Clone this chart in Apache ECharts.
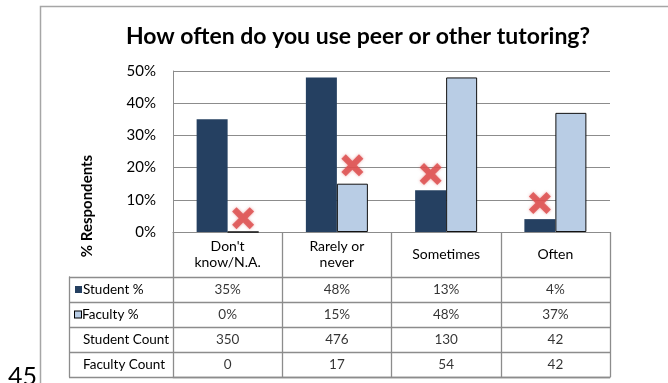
<!DOCTYPE html>
<html>
<head>
<meta charset="utf-8">
<script src="https://cdn.jsdelivr.net/npm/echarts@6/dist/echarts.min.js"></script>
<style>html,body{margin:0;padding:0;background:#fff}#c{width:668px;height:383px}</style>
</head>
<body>
<div id="c"></div>
<script>
var titleText = 'How often do you use peer or other tutoring?';
var categories = ["Don't\nknow/N.A.", 'Rarely or\nnever', 'Sometimes', 'Often'];
var studentPct = [35, 48, 13, 4];
var facultyPct = [0, 15, 48, 37];
var studentCount = [350, 476, 130, 42];
var facultyCount = [0, 17, 54, 42];
var markerOnStudent = [null, null, 18, 9];
var markerOnFaculty = [4.3, 20.7, null, null];
var rowNames = ['Student %', 'Faculty %', 'Student Count', 'Faculty Count'];
var yTicks = {min: 0, max: 50, interval: 10};

var FONT = 'Lato, "Open Sans", sans-serif';
var NAVY = '#254061', LIGHT = '#B9CDE5', GRID = '#8c8c8c', TABLE = '#8c8c8c';
var XPATH = 'path://M0,4 L4,0 L10,6 L16,0 L20,4 L14,10 L20,16 L16,20 L10,14 L4,20 L0,16 L6,10 Z';

var tableRows = [
  studentPct.map(function (v) { return v + '%'; }),
  facultyPct.map(function (v) { return v + '%'; }),
  studentCount.map(String),
  facultyCount.map(String)
];
var cellData = [];
tableRows.forEach(function (row, r) {
  row.forEach(function (txt, c) { cellData.push([c, r, txt]); });
});

var chart = echarts.init(document.getElementById('c'));
chart.setOption({
  animation: false,
  backgroundColor: '#fff',
  textStyle: {fontFamily: FONT},
  title: {
    text: titleText, left: 353, textAlign: 'center', top: 20,
    textStyle: {fontFamily: FONT, fontSize: 23, fontWeight: 'bold', color: '#000'}
  },
  graphic: [
    {type: 'rect', silent: true, shape: {x: 40.5, y: 6.5, width: 700, height: 420},
     style: {fill: null, stroke: '#a6a6a6', lineWidth: 1.5}},
    {type: 'text', x: 87, y: 206, rotation: Math.PI / 2,
     style: {text: '% Respondents', font: 'bold 15px ' + FONT, fill: '#000', align: 'center', verticalAlign: 'middle'}},
    {type: 'text', x: 8, y: 364,
     style: {text: '45', font: '25px ' + FONT, fill: '#000', align: 'left', verticalAlign: 'top'}}
  ],
  grid: [
    {left: 173, right: 58, top: 71, bottom: 151},
    {left: 173, right: 58, top: 277, bottom: 6}
  ],
  xAxis: [
    {type: 'category', gridIndex: 0, data: categories,
     axisLine: {show: true, lineStyle: {color: GRID, width: 1}},
     axisTick: {show: true, length: 145, lineStyle: {color: TABLE, width: 1.3}},
     axisLabel: {interval: 0, margin: 22, verticalAlign: 'middle', fontSize: 14, lineHeight: 16, color: '#000', fontFamily: FONT}},
    {type: 'category', gridIndex: 1, data: categories.map(function (d, i) { return i; }),
     axisLine: {show: true, lineStyle: {color: TABLE, width: 1.3}},
     axisTick: {show: false}, axisLabel: {show: false}, splitLine: {show: false}}
  ],
  yAxis: [
    {type: 'value', gridIndex: 0, min: yTicks.min, max: yTicks.max, interval: yTicks.interval,
     axisLine: {show: true, lineStyle: {color: GRID}},
     axisTick: {show: false},
     axisLabel: {formatter: '{value}%', fontSize: 15, color: '#000', margin: 17, fontFamily: FONT},
     splitLine: {show: true, lineStyle: {color: GRID, width: 1}}},
    {type: 'category', gridIndex: 1, data: rowNames, inverse: true, position: 'left', offset: 104,
     axisLine: {show: true, lineStyle: {color: TABLE, width: 1.3}},
     axisTick: {show: true, inside: true, length: 104, lineStyle: {color: TABLE, width: 1.3}},
     splitLine: {show: true, lineStyle: {color: TABLE, width: 1.3}},
     axisLabel: {inside: true, margin: 6, align: 'left', fontSize: 13.5, color: '#000', fontFamily: FONT,
       formatter: function (v, i) {
         if (i === 0) return '{ks|}{t|' + v + '}';
         if (i === 1) return '{kf|}{t|' + v + '}';
         return '{sp|}{t|' + v + '}';
       },
       rich: {
         ks: {width: 7, height: 7, backgroundColor: NAVY},
         kf: {width: 6, height: 6, backgroundColor: LIGHT, borderColor: '#000', borderWidth: 1},
         sp: {width: 7, height: 7},
         t: {fontSize: 13.5, color: '#000', fontFamily: FONT, padding: [0, 0, 0, 1]}
       }}}
  ],
  series: [
    {name: 'Student %', type: 'bar', xAxisIndex: 0, yAxisIndex: 0, data: studentPct,
     barWidth: 31, barGap: '0%', itemStyle: {color: NAVY}},
    {name: 'Faculty %', type: 'bar', xAxisIndex: 0, yAxisIndex: 0, data: facultyPct,
     barWidth: 31, barGap: '0%', itemStyle: {color: LIGHT, borderColor: '#111', borderWidth: 1}},
    {type: 'pictorialBar', xAxisIndex: 0, yAxisIndex: 0, data: markerOnStudent, barWidth: 31, barGap: '0%',
     symbol: XPATH, symbolSize: [22, 22], symbolPosition: 'end', symbolOffset: [0, '-50%'], z: 5,
     itemStyle: {color: 'rgba(221,80,80,0.85)', shadowBlur: 3, shadowColor: 'rgba(221,80,80,0.6)'}},
    {type: 'pictorialBar', xAxisIndex: 0, yAxisIndex: 0, data: markerOnFaculty, barWidth: 31, barGap: '0%',
     symbol: XPATH, symbolSize: [22, 22], symbolPosition: 'end', symbolOffset: [0, '-50%'], z: 5,
     itemStyle: {color: 'rgba(221,80,80,0.85)', shadowBlur: 3, shadowColor: 'rgba(221,80,80,0.6)'}},
    {type: 'scatter', xAxisIndex: 1, yAxisIndex: 1, data: cellData, symbolSize: 1,
     itemStyle: {color: 'rgba(0,0,0,0)'},
     label: {show: true, position: 'inside', fontSize: 13.5, color: '#000', fontFamily: FONT,
       formatter: function (p) { return p.value[2]; }}}
  ]
});
</script>
</body>
</html>
